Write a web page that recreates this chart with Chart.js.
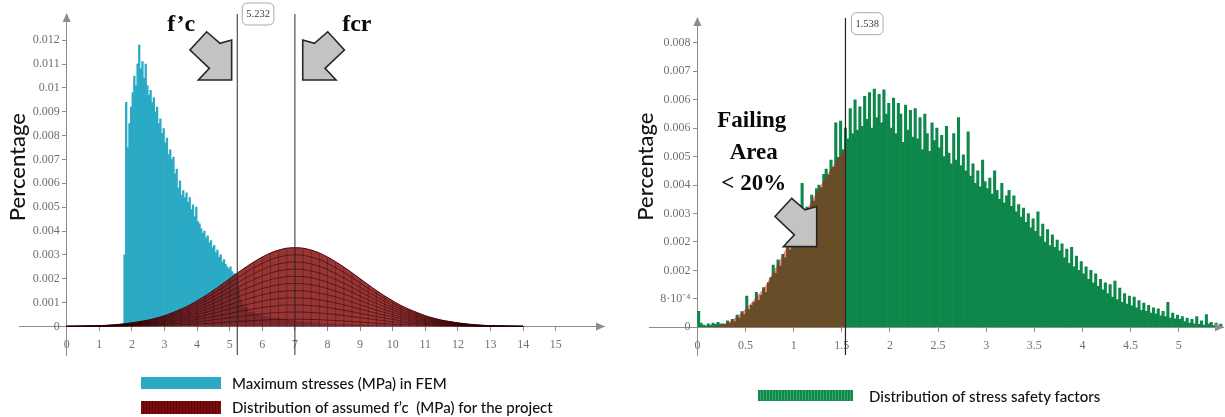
<!DOCTYPE html>
<html>
<head>
<meta charset="utf-8">
<script src="https://cdn.jsdelivr.net/npm/chart.js@4/dist/chart.umd.min.js"></script>
<style>
  html, body { margin: 0; padding: 0; background: #fff; }
  #wrap { position: relative; width: 1225px; height: 417px; overflow: hidden; background: #fff; }
  canvas { position: absolute; top: 0; }
  .lg-box { position: absolute; }
  .lg-text { position: absolute; font-family: Lato, "Liberation Sans", sans-serif; font-size: 15px; font-weight: 500; color: #111; white-space: pre; line-height: 18px; }
</style>
</head>
<body>
<div id="wrap">
  <canvas id="left" width="612" height="417" style="left:0px"></canvas>
  <canvas id="right" width="613" height="417" style="left:612px"></canvas>

  <div class="lg-box" style="left:141px; top:377px; width:80px; height:12px; background:#2aaac4;"></div>
  <div class="lg-text" style="left:232px; top:374px;">Maximum stresses (MPa) in FEM</div>
  <div class="lg-box" style="left:141px; top:401px; width:80px; height:13px; background:repeating-linear-gradient(90deg,#7c0c0c 0 2px,#5a0404 2px 3px);"></div>
  <div class="lg-text" style="left:232px; top:398px;">Distribution of assumed f’c  (MPa) for the project</div>

  <div class="lg-box" style="left:758px; top:390px; width:95px; height:11px; background:repeating-linear-gradient(90deg,#0f8a4a 0 2px,#3aa869 2px 3px);"></div>
  <div class="lg-text" style="left:869px; top:387px;">Distribution of stress safety factors</div>
</div>

<script>
// ---------------- data: left panel ----------------
const xTicksLeft      = [0,1,2,3,4,5,6,7,8,9,10,11,12,13,14,15];
const xTickLabelsLeft = ['0','1','2','3','4','5','6','7','8','9','10','11','12','13','14','15'];
const yTicksLeft      = [0,0.001,0.002,0.003,0.004,0.005,0.006,0.007,0.008,0.009,0.01,0.011,0.012];
const yTickLabelsLeft = ['0','0.001','0.002','0.003','0.004','0.005','0.006','0.007','0.008','0.009','0.01','0.011','0.012'];

// histogram of maximum stresses (MPa) in FEM, bins of 0.05 starting at 1.75
const stressBinStart = 1.75;
const stressBinWidth = 0.05;
const stressValues = [
  0.0030,0.0094,0.0075,0.0085,0.0092,0.0098,0.0105,0.0101,0.0110,0.0118,
  0.0108,0.0111,0.0104,0.0110,0.0101,0.0097,0.0099,0.0094,0.0096,0.0090,
  0.0092,0.0085,0.0087,0.0081,0.0083,0.0077,0.0079,0.0072,0.0074,0.0070,
  0.0071,0.0064,0.0066,0.0058,0.0061,0.0055,0.0057,0.0054,0.0056,0.0052,
  0.0054,0.0049,0.0051,0.0046,0.0050,0.0044,0.0043,0.0041,0.0039,0.0040,
  0.0037,0.0038,0.0035,0.0036,0.0033,0.0034,0.0031,0.0032,0.0029,0.0030,
  0.0027,0.0028,0.0026,0.0025,0.0024,0.0025,0.0023,0.0022,0.0022,0.0021,
  0.0016,0.0012,0.0010,0.0009,0.0008
];
// thin tail of the stress histogram (bin centres, wider bins)
const stressTailX = [5.625,5.875,6.125,6.375,6.625,6.875,7.125,7.375,7.625,7.875,8.125,8.375,8.625,8.875,9.125,9.375,9.625,9.875,10.125];
const stressTailValues = [0.0006,0.0005,0.0004,0.00035,0.0003,0.00025,0.0002,0.00018,0.00015,0.00012,0.0001,0.00009,0.00008,0.00007,0.00006,0.00005,0.00005,0.00004,0.00004];

// distribution of assumed f'c (MPa), sampled every 0.25 from 0
const fcDistStart = 0;
const fcDistStep = 0.25;
const fcDistValues = [
  0.000002,0.000005,0.000010,0.000018,0.000030,0.000047,0.000072,0.000107,0.000150,0.000205,
  0.000265,0.000350,0.000450,0.000580,0.000720,0.000880,0.001070,0.001280,0.001510,0.001750,
  0.002000,0.002250,0.002490,0.002710,0.002910,0.003080,0.003200,0.003280,0.003300,0.003280,
  0.003200,0.003080,0.002910,0.002710,0.002490,0.002250,0.002000,0.001750,0.001510,0.001280,
  0.001070,0.000880,0.000720,0.000580,0.000450,0.000350,0.000265,0.000205,0.000150,0.000107,
  0.000072,0.000047,0.000030,0.000018,0.000010,0.000005,0.000002
];
const fcValue  = 5.232;  // f'c
const fcrValue = 7;      // fcr

// ---------------- data: right panel ----------------
const xTicksRight      = [0,0.5,1,1.5,2,2.5,3,3.5,4,4.5,5];
const xTickLabelsRight = ['0','0.5','1','1.5','2','2.5','3','3.5','4','4.5','5'];
const yTicksRight      = [0,0.0008,0.0016,0.0024,0.0032,0.004,0.0048,0.0056,0.0064,0.0072,0.008];
const yTickLabelsRight = ['0','8·10⁻⁴','0.002','0.002','0.003','0.004','0.005','0.006','0.006','0.007','0.008'];

// histogram of stress safety factors, bins of 0.025 starting at 0
const sfBinStart = 0;
const sfBinWidth = 0.025;
const sfValues = [
  0.00045,0.00012,0.00006,0.00004,0.00010,0.00006,0.00012,0.00008,0.00014,0.00010,
  0.00010,0.00008,0.00018,0.00012,0.00022,0.00016,0.00034,0.00026,0.00044,0.00036,
  0.00088,0.00050,0.00062,0.00070,0.00098,0.00076,0.00090,0.00112,0.00098,0.00125,
  0.00140,0.00175,0.00152,0.00190,0.00172,0.00205,0.00195,0.00240,0.00218,0.00252,
  0.00270,0.00300,0.00285,0.00405,0.00318,0.00338,0.00330,0.00372,0.00355,0.00390,
  0.00400,0.00392,0.00430,0.00445,0.00428,0.00470,0.00450,0.00575,0.00478,0.00580,
  0.00500,0.00560,0.00530,0.00615,0.00545,0.00640,0.00555,0.00620,0.00565,0.00650,
  0.00585,0.00660,0.00560,0.00670,0.00590,0.00655,0.00575,0.00668,0.00600,0.00630,
  0.00560,0.00645,0.00545,0.00630,0.00600,0.00520,0.00625,0.00555,0.00610,0.00535,
  0.00615,0.00530,0.00590,0.00500,0.00600,0.00545,0.00495,0.00575,0.00525,0.00560,
  0.00505,0.00540,0.00480,0.00565,0.00490,0.00460,0.00545,0.00470,0.00590,0.00455,
  0.00485,0.00440,0.00550,0.00425,0.00460,0.00405,0.00440,0.00395,0.00470,0.00410,
  0.00390,0.00420,0.00375,0.00440,0.00385,0.00360,0.00405,0.00350,0.00370,0.00385,
  0.00340,0.00370,0.00325,0.00345,0.00310,0.00335,0.00295,0.00320,0.00280,0.00305,
  0.00270,0.00325,0.00255,0.00290,0.00240,0.00275,0.00230,0.00260,0.00225,0.00245,
  0.00215,0.00235,0.00195,0.00220,0.00180,0.00225,0.00170,0.00200,0.00160,0.00185,
  0.00150,0.00170,0.00135,0.00160,0.00125,0.00150,0.00115,0.00135,0.00105,0.00125,
  0.00095,0.00120,0.00085,0.00130,0.00078,0.00110,0.00070,0.00095,0.00065,0.00088,
  0.00060,0.00085,0.00055,0.00075,0.00048,0.00068,0.00045,0.00062,0.00040,0.00055,
  0.00038,0.00052,0.00032,0.00045,0.00030,0.00070,0.00026,0.00040,0.00024,0.00034,
  0.00022,0.00030,0.00016,0.00026,0.00012,0.00022,0.00010,0.00030,0.00008,0.00018,
  0.00006,0.00036,0.00010,0.00014,0.00005,0.00012,0.00004,0.00009
];
// failing area (< 20%) outline
const failX = [0.15,0.20,0.25,0.30,0.35,0.40,0.45,0.50,0.55,0.60,0.65,0.70,0.75,0.80,0.85,0.90,0.95,1.00,1.05,1.10,1.15,1.20,1.25,1.30,1.35,1.40,1.45,1.50,1.538,1.538];
const failY = [0,0.00003,0.00007,0.00012,0.00019,0.00028,0.00039,0.00052,0.00066,0.00081,0.00097,0.00114,0.00137,0.00161,0.00186,0.00211,0.00237,0.00263,0.00289,0.00314,0.00338,0.00362,0.00385,0.00408,0.00430,0.00451,0.00471,0.00490,0.00504,0];
const sfThreshold = 1.538;

// ---------------- helpers ----------------
const AXIS_GRAY = '#8c8c8c';
const TICK_FONT = { family: '"Liberation Serif", serif', size: 12 };
const TICK_FONT_CSS = '12px "Liberation Serif", serif';
const TICK_COLOR = '#707070';
const ARROW_SHAPE = [[0,0],[0,-40],[-11.7,-36.7],[-25,-48.3],[-41.7,-30],[-22.3,-11.7],[-33.3,0]];

function drawBlockArrow(ctx, tx, ty, mirror) {
  ctx.save();
  ctx.beginPath();
  ARROW_SHAPE.forEach(([dx, dy], i) => {
    const px = tx + (mirror ? -dx : dx), py = ty + dy;
    if (i === 0) ctx.moveTo(px, py); else ctx.lineTo(px, py);
  });
  ctx.closePath();
  ctx.fillStyle = '#c3c3c3';
  ctx.fill();
  ctx.lineWidth = 1.6;
  ctx.strokeStyle = '#262626';
  ctx.lineJoin = 'miter';
  ctx.stroke();
  ctx.restore();
}

const decorPlugin = {
  id: 'decor',
  afterDatasetDraw(chart, args) {
    const ds = chart.data.datasets[args.index];
    if (!ds.mesh) return;
    const {ctx, chartArea} = chart;
    const pts = args.meta.data;
    const y0 = chart.scales.y.getPixelForValue(0);
    ctx.save();
    ctx.beginPath();
    ctx.rect(chartArea.left, chartArea.top, chartArea.right - chartArea.left, chartArea.bottom - chartArea.top);
    ctx.clip();
    ctx.strokeStyle = 'rgba(40,0,0,0.6)';
    ctx.lineWidth = 0.9;
    for (let k = 1; k < ds.mesh; k++) {
      ctx.beginPath();
      pts.forEach((p, i) => {
        const yy = y0 + (p.y - y0) * k / ds.mesh;
        if (i === 0) ctx.moveTo(p.x, yy); else ctx.lineTo(p.x, yy);
      });
      ctx.stroke();
    }
    ctx.strokeStyle = 'rgba(40,0,0,0.4)';
    ctx.lineWidth = 0.8;
    ctx.beginPath();
    pts.forEach(p => { ctx.moveTo(p.x, y0); ctx.lineTo(p.x, p.y); });
    ctx.stroke();
    ctx.restore();
  },
  afterDraw(chart, args, opts) {
    const {ctx, chartArea, scales: {x, y}} = chart;
    const x0 = x.getPixelForValue(0), y0 = y.getPixelForValue(0);
    ctx.save();
    // axis arrow heads
    ctx.fillStyle = AXIS_GRAY;
    ctx.beginPath();
    ctx.moveTo(chartArea.right + 1, y0);
    ctx.lineTo(chartArea.right - 8, y0 - 4);
    ctx.lineTo(chartArea.right - 8, y0 + 4);
    ctx.closePath();
    ctx.fill();
    ctx.beginPath();
    ctx.moveTo(x0, chartArea.top - 1);
    ctx.lineTo(x0 - 4, chartArea.top + 8);
    ctx.lineTo(x0 + 4, chartArea.top + 8);
    ctx.closePath();
    ctx.fill();

    // y tick labels (left of the axis that crosses at x = 0)
    if (opts.yLabels) {
      ctx.font = TICK_FONT_CSS;
      ctx.fillStyle = TICK_COLOR;
      ctx.textAlign = 'right';
      ctx.textBaseline = 'middle';
      y.ticks.forEach((t, i) => ctx.fillText(opts.yLabels[i], x0 - 7, y.getPixelForValue(t.value)));
    }

    // y title
    if (opts.yTitle) {
      ctx.save();
      ctx.translate(chartArea.left + opts.yTitle.dx, y.getPixelForValue(opts.yTitle.y));
      ctx.rotate(-Math.PI / 2);
      ctx.font = '500 22px Lato, "Liberation Sans", sans-serif';
      ctx.fillStyle = '#141414';
      ctx.textAlign = 'center';
      ctx.textBaseline = 'middle';
      ctx.fillText(opts.yTitle.text, 0, 0);
      ctx.restore();
    }

    // value boxes next to the vertical lines
    (opts.boxes || []).forEach(b => {
      ctx.font = '10.5px "Liberation Serif", serif';
      const w = ctx.measureText(b.text).width + 8, h = 22;
      const bx = x.getPixelForValue(b.value) + b.dx;
      const by = y.getPixelForValue(b.y) - h / 2;
      ctx.beginPath();
      ctx.roundRect(bx, by, w, h, 5);
      ctx.fillStyle = '#fff';
      ctx.fill();
      ctx.lineWidth = 1;
      ctx.strokeStyle = '#a8a8a8';
      ctx.stroke();
      ctx.fillStyle = '#3c3c3c';
      ctx.textAlign = 'center';
      ctx.textBaseline = 'middle';
      ctx.fillText(b.text, bx + w / 2, by + h / 2 + 0.5);
    });

    // block arrows
    (opts.arrows || []).forEach(a => drawBlockArrow(ctx, x.getPixelForValue(a.x), y.getPixelForValue(a.y), a.mirror));

    // bold labels
    (opts.texts || []).forEach(t => {
      ctx.font = t.font;
      ctx.fillStyle = '#0a0a0a';
      ctx.textAlign = 'center';
      ctx.textBaseline = 'alphabetic';
      ctx.fillText(t.text, x.getPixelForValue(t.x), y.getPixelForValue(t.y));
    });
    ctx.restore();
  }
};

function makeScales(cfg) {
  return {
    x: {
      type: 'linear', min: cfg.xMin, max: cfg.xMax, offset: false,
      position: { y: 0 },
      afterBuildTicks: s => { s.ticks = cfg.xTicks.map(v => ({ value: v })); },
      ticks: { callback: (v, i) => cfg.xLabels[i], autoSkip: false, maxRotation: 0, font: TICK_FONT, color: TICK_COLOR, padding: 7 },
      grid: { display: true, drawOnChartArea: false, drawTicks: true, tickLength: 4, color: AXIS_GRAY, offset: false },
      border: { display: true, color: AXIS_GRAY, width: 1 }
    },
    y: {
      type: 'linear', min: cfg.yMin, max: cfg.yMax,
      position: { x: 0 },
      afterBuildTicks: s => { s.ticks = cfg.yTicks.map(v => ({ value: v })); },
      ticks: { display: false, autoSkip: false },
      grid: { display: true, drawOnChartArea: false, drawTicks: true, tickLength: 4, color: AXIS_GRAY },
      border: { display: true, color: AXIS_GRAY, width: 1 }
    }
  };
}

const commonOpts = {
  responsive: false, animation: false, devicePixelRatio: 1, events: [],
};

// ---------------- left chart ----------------
const leftYMin = -0.0012, leftYMax = 0.0131;
const stressData = stressValues.map((v, i) => ({ x: stressBinStart + (i + 0.5) * stressBinWidth, y: v }))
  .concat(stressTailX.map((x, i) => ({ x, y: stressTailValues[i] })));
new Chart(document.getElementById('left'), {
  type: 'bar',
  data: {
    datasets: [
      {
        label: 'Maximum stresses (MPa) in FEM',
        data: stressData,
        backgroundColor: '#2aaac4', borderWidth: 0, barPercentage: 1, categoryPercentage: 1,
        barThickness: 'flex', order: 5
      },
      {
        type: 'line',
        label: "Distribution of assumed f'c (MPa) for the project",
        data: fcDistValues.map((v, i) => ({ x: fcDistStart + i * fcDistStep, y: v })),
        borderColor: '#4e0606', borderWidth: 1, backgroundColor: 'rgba(135,20,20,0.86)',
        fill: 'origin', pointRadius: 0, tension: 0.3, order: 3, mesh: 11
      },
      {
        type: 'line', label: "f'c",
        data: [{ x: fcValue, y: leftYMin }, { x: fcValue, y: leftYMax }],
        borderColor: '#2b2b2b', borderWidth: 1, pointRadius: 0, fill: false, order: 1
      },
      {
        type: 'line', label: 'fcr',
        data: [{ x: fcrValue, y: leftYMin }, { x: fcrValue, y: leftYMax }],
        borderColor: '#2b2b2b', borderWidth: 1, pointRadius: 0, fill: false, order: 1
      }
    ]
  },
  options: Object.assign({}, commonOpts, {
    layout: { padding: { left: 19.4, top: 14, right: 8, bottom: 62 } },
    scales: makeScales({ xMin: -1.45, xMax: 16.48, yMin: leftYMin, yMax: leftYMax,
      xTicks: xTicksLeft, xLabels: xTickLabelsLeft, yTicks: yTicksLeft }),
    plugins: {
      legend: { display: false }, tooltip: { enabled: false },
      decor: {
        yLabels: yTickLabelsLeft,
        yTitle: { text: 'Percentage', dx: -1.5, y: 0.00668 },
        boxes: [{ value: fcValue, text: fcValue.toFixed(3), dx: 5, y: leftYMax }],
        arrows: [{ x: 5.06, y: 0.01033, mirror: false }, { x: 7.24, y: 0.01033, mirror: true }],
        texts: [
          { text: 'f’c', x: 3.51, y: 0.01239, font: 'bold 24px "Liberation Serif", serif' },
          { text: 'fcr', x: 8.90, y: 0.01239, font: 'bold 24px "Liberation Serif", serif' }
        ]
      }
    }
  }),
  plugins: [decorPlugin]
});

// ---------------- right chart ----------------
const rightYMin = -0.00078, rightYMax = 0.0087;
new Chart(document.getElementById('right'), {
  type: 'bar',
  data: {
    datasets: [
      {
        label: 'Distribution of stress safety factors',
        data: sfValues.map((v, i) => ({ x: sfBinStart + (i + 0.5) * sfBinWidth, y: v })),
        backgroundColor: '#0e874a', borderWidth: 0, barPercentage: 1, categoryPercentage: 1,
        order: 5
      },
      {
        type: 'line', label: 'threshold',
        data: [{ x: sfThreshold, y: rightYMin }, { x: sfThreshold, y: rightYMax }],
        borderColor: '#222', borderWidth: 1.2, pointRadius: 0, fill: false, order: 2
      },
      {
        type: 'line', label: 'Failing area',
        data: failX.map((x, i) => ({ x, y: failY[i] })),
        borderWidth: 0, borderColor: 'rgba(0,0,0,0)', backgroundColor: 'rgba(212,10,0,0.46)',
        fill: 'origin', pointRadius: 0, tension: 0, order: 1
      }
    ]
  },
  options: Object.assign({}, commonOpts, {
    layout: { padding: { left: 37.3, top: 18, right: 2, bottom: 62 } },
    scales: makeScales({ xMin: -0.5, xMax: 5.46, yMin: rightYMin, yMax: rightYMax,
      xTicks: xTicksRight, xLabels: xTickLabelsRight, yTicks: yTicksRight }),
    plugins: {
      legend: { display: false }, tooltip: { enabled: false },
      decor: {
        yLabels: yTickLabelsRight,
        yTitle: { text: 'Percentage', dx: -3, y: 0.00452 },
        boxes: [{ value: sfThreshold, text: sfThreshold.toFixed(3), dx: 6, y: 0.00854 }],
        arrows: [{ x: 1.239, y: 0.00227, mirror: false }],
        texts: [
          { text: 'Failing', x: 0.565, y: 0.00564, font: 'bold 23px "Liberation Serif", serif' },
          { text: 'Area',    x: 0.585, y: 0.00474, font: 'bold 23px "Liberation Serif", serif' },
          { text: '< 20%',   x: 0.585, y: 0.00387, font: 'bold 23px "Liberation Serif", serif' }
        ]
      }
    }
  }),
  plugins: [decorPlugin]
});
</script>
</body>
</html>
